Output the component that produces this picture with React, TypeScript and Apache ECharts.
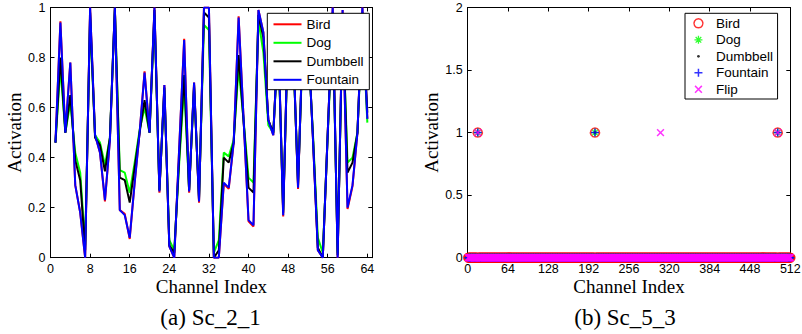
import React, { useEffect, useRef } from 'react';
import * as echarts from 'echarts';

// ---------- Data: (a) Sc_2_1, 64 channels ----------
const channels = Array.from({ length: 64 }, (_, i) => i + 1);

const bird = [
  0.46, 0.945, 0.5, 0.78, 0.29, 0.18, 0.0, 1.0, 0.49, 0.42,
  0.225, 0.47, 1.0, 0.19, 0.175, 0.075, 0.3, 0.5, 0.745, 0.5,
  1.0, 0.26, 0.69, 0.045, 0.0, 0.44, 0.875, 0.26, 0.7, 0.22,
  1.0, 1.0, 0.0, 0.0, 0.295, 0.275, 0.46, 0.965, 0.555, 0.145,
  0.125, 0.99, 0.9, 0.55, 0.49, 0.9, 0.165, 0.95, 0.86, 0.275,
  0.92, 0.9, 0.48, 0.03, 0.0, 0.5, 1.0, 0.0, 0.99, 0.195,
  0.285, 0.5, 1.0, 0.555,
];
const dog = [
  0.46, 0.76, 0.5, 0.62, 0.42, 0.34, 0.05, 0.95, 0.49, 0.46,
  0.37, 0.48, 0.99, 0.35, 0.34, 0.26, 0.38, 0.51, 0.6, 0.5,
  0.97, 0.27, 0.67, 0.07, 0.03, 0.38, 0.69, 0.27, 0.68, 0.24,
  0.93, 0.91, 0.02, 0.07, 0.42, 0.405, 0.47, 0.76, 0.55, 0.32,
  0.3, 0.95, 0.82, 0.53, 0.5, 0.86, 0.19, 0.91, 0.83, 0.3,
  0.88, 0.86, 0.5, 0.08, 0.02, 0.49, 0.95, 0.02, 0.95, 0.38,
  0.4, 0.5, 0.96, 0.54,
];
const dumbbell = [
  0.46, 0.8, 0.5, 0.65, 0.39, 0.31, 0.03, 0.98, 0.48, 0.45,
  0.345, 0.48, 1.0, 0.32, 0.31, 0.22, 0.36, 0.5, 0.63, 0.5,
  0.99, 0.27, 0.68, 0.05, 0.02, 0.4, 0.73, 0.27, 0.69, 0.23,
  0.98, 0.96, 0.0, 0.03, 0.4, 0.38, 0.46, 0.81, 0.545, 0.28,
  0.26, 0.97, 0.88, 0.55, 0.5, 0.88, 0.18, 0.93, 0.85, 0.29,
  0.9, 0.88, 0.49, 0.04, 0.0, 0.5, 0.98, 0.01, 0.97, 0.34,
  0.38, 0.5, 0.98, 0.58,
];
const fountain = [
  0.46, 0.94, 0.5, 0.78, 0.29, 0.18, 0.0, 1.0, 0.49, 0.42,
  0.23, 0.47, 1.0, 0.19, 0.17, 0.08, 0.3, 0.5, 0.74, 0.5,
  1.0, 0.265, 0.69, 0.045, 0.0, 0.44, 0.87, 0.265, 0.7, 0.225,
  1.0, 1.0, 0.0, 0.0, 0.3, 0.28, 0.46, 0.96, 0.555, 0.15,
  0.13, 0.99, 0.9, 0.55, 0.49, 0.9, 0.17, 0.95, 0.86, 0.28,
  0.92, 0.9, 0.48, 0.03, 0.0, 0.5, 1.0, 0.0, 0.99, 0.2,
  0.29, 0.5, 1.0, 0.555,
];

// ---------- Data: (b) Sc_5_3, 512 channels (all zero except the listed channels, which are 1) ----------
const channelCount512 = 512;
const birdActive = [16, 202, 492];
const dogActive = [16, 202, 492];
const dumbbellActive = [16, 202, 492];
const fountainActive = [16, 202, 492];
const flipActive = [16, 306, 492];

const seriesNamesA = ['Bird', 'Dog', 'Dumbbell', 'Fountain'];
const seriesNamesB = ['Bird', 'Dog', 'Dumbbell', 'Fountain', 'Flip'];
const captionA = '(a) Sc_2_1';
const captionB = '(b) Sc_5_3';

const SANS = '"Liberation Sans", Arial, Helvetica, sans-serif';
const SERIF = '"Liberation Serif", "Times New Roman", serif';

const RED = '#ff0000';
const GREEN = '#00ff00';
const BLACK = '#000000';
const BLUE = '#0000ff';
const MAGENTA = '#ff00ff';

const ICON_LINE = 'path://M0,0M28,14M0,7L28,7';
const ICON_CIRCLE = 'path://M0,0M10,10M5,0.5A4.5,4.5,0,1,1,4.99,0.5Z';
const ICON_ASTERISK = 'path://M0,0M10,10M5,1L5,9M1,5L9,5M2.2,2.2L7.8,7.8M2.2,7.8L7.8,2.2';
const ICON_DOT = 'path://M0,0M10,10M3.6,5L4,4L5,3.6L6,4L6.4,5L6,6L5,6.4L4,6Z';
const ICON_PLUS = 'path://M0,0M10,10M5,1L5,9M1,5L9,5';
const ICON_X = 'path://M0,0M10,10M1.6,1.6L8.4,8.4M1.6,8.4L8.4,1.6';

function build512(active: number[]) {
  const out: number[][] = [];
  for (let c = 1; c <= channelCount512; c++) {
    out.push([c, active.indexOf(c) >= 0 ? 1 : 0]);
  }
  return out;
}

function frameAxes(
  xMin: number, xMax: number, xInt: number,
  yMin: number, yMax: number, yInt: number,
  xLabelFmt?: (v: number) => string,
) {
  const line = { show: true, onZero: false, lineStyle: { color: '#000', width: 1 } };
  const tick = { show: true, inside: true, length: 4, lineStyle: { color: '#000', width: 1 } };
  const label = { color: '#000', fontFamily: SANS, fontSize: 12.5 };
  const xAxis = [
    {
      type: 'value', min: xMin, max: xMax, interval: xInt, position: 'bottom',
      axisLine: line, axisTick: tick, splitLine: { show: false },
      axisLabel: { ...label, margin: 5, formatter: xLabelFmt },
      name: 'Channel Index', nameLocation: 'middle', nameGap: 19.5, nameMoveOverlap: false,
      nameTextStyle: { fontFamily: SERIF, fontSize: 19, color: '#000' },
    },
    {
      type: 'value', min: xMin, max: xMax, interval: xInt, position: 'top',
      axisLine: line, axisTick: tick, splitLine: { show: false }, axisLabel: { show: false },
    },
  ];
  const yAxis = [
    {
      type: 'value', min: yMin, max: yMax, interval: yInt, position: 'left',
      axisLine: line, axisTick: tick, splitLine: { show: false },
      axisLabel: { ...label, margin: 5 },
      name: 'Activation', nameLocation: 'middle', nameGap: 27, nameRotate: 90, nameMoveOverlap: false,
      nameTextStyle: { fontFamily: SERIF, fontSize: 19, color: '#000' },
    },
    {
      type: 'value', min: yMin, max: yMax, interval: yInt, position: 'right',
      axisLine: line, axisTick: tick, splitLine: { show: false }, axisLabel: { show: false },
    },
  ];
  return { xAxis, yAxis };
}

function caption(text: string, x: number) {
  return {
    type: 'text', x, y: 317.5, z: 5,
    style: {
      text, fill: '#000', fontFamily: SERIF, fontSize: 23,
      align: 'center', verticalAlign: 'middle', textAlign: 'center', textVerticalAlign: 'middle',
    },
  };
}

function optionA() {
  const axes = frameAxes(0, 65, 8, 0, 1, 0.2, (v: number) => (v % 8 === 0 ? String(v) : ''));
  const values = [bird, dog, dumbbell, fountain];
  const colors = [RED, GREEN, BLACK, BLUE];
  return {
    animation: false,
    grid: { left: 50.5, right: 28.7, top: 7.5, bottom: 76.3, containLabel: false, outerBoundsMode: 'none' },
    ...axes,
    legend: {
      orient: 'vertical', left: 267.3, top: 13.3, padding: [3, 5.8, 1.9, 5.2],
      backgroundColor: '#ffffff', borderColor: '#000000', borderWidth: 1, borderRadius: 0,
      itemWidth: 28, itemHeight: 14, itemGap: 2.5, selectedMode: false,
      textStyle: { fontFamily: SANS, fontSize: 13.5, color: '#000', lineHeight: 14 },
      data: seriesNamesA.map((name, i) => ({
        name, icon: ICON_LINE,
        itemStyle: { color: 'transparent', borderColor: colors[i], borderWidth: 2 },
      })),
    },
    graphic: [caption(captionA, 210.5)],
    series: seriesNamesA.map((name, i) => ({
      type: 'line', name, xAxisIndex: 0, yAxisIndex: 0, silent: true,
      data: channels.map((c, j) => [c, values[i][j]]),
      symbol: 'none', color: colors[i],
      lineStyle: { color: colors[i], width: 2 },
    })),
  };
}

function optionB() {
  const axes = frameAxes(0, 512, 64, 0, 2, 0.5);
  const actives = [birdActive, dogActive, dumbbellActive, fountainActive, flipActive];
  const styles = [
    { symbol: ICON_CIRCLE, itemStyle: { color: 'transparent', borderColor: RED, borderWidth: 1.5 } },
    { symbol: ICON_ASTERISK, itemStyle: { color: 'transparent', borderColor: GREEN, borderWidth: 1.3 } },
    { symbol: ICON_DOT, itemStyle: { color: BLACK, borderColor: BLACK, borderWidth: 0 } },
    { symbol: ICON_PLUS, itemStyle: { color: 'transparent', borderColor: BLUE, borderWidth: 1.5 } },
    { symbol: ICON_X, itemStyle: { color: 'transparent', borderColor: MAGENTA, borderWidth: 1.5 } },
  ];
  return {
    animation: false,
    grid: { left: 66.7, right: 11.7, top: 7.5, bottom: 76.3, containLabel: false, outerBoundsMode: 'none' },
    ...axes,
    legend: {
      orient: 'vertical', left: 284, top: 13.3, padding: [3, 4.6, 2.7, 7.7],
      backgroundColor: '#ffffff', borderColor: '#000000', borderWidth: 1, borderRadius: 0,
      itemWidth: 25, itemHeight: 10, itemGap: 2.5, selectedMode: false,
      textStyle: { fontFamily: SANS, fontSize: 13.5, color: '#000', lineHeight: 14 },
      data: seriesNamesB.map((name, i) => ({ name, icon: styles[i].symbol, itemStyle: styles[i].itemStyle })),
    },
    graphic: [caption(captionB, 224)],
    series: seriesNamesB.map((name, i) => ({
      type: 'scatter', name, xAxisIndex: 0, yAxisIndex: 0, silent: true,
      data: build512(actives[i]),
      symbol: styles[i].symbol, symbolSize: 10,
      itemStyle: styles[i].itemStyle,
      clip: false,
    })),
  };
}

function Chart({ option, left }: { option: any; left: number }) {
  const ref = useRef<HTMLDivElement>(null);
  useEffect(() => {
    if (!ref.current) return;
    const chart = echarts.init(ref.current, null, { renderer: 'svg' });
    chart.setOption(option);
    return () => chart.dispose();
  }, [option]);
  return (
    <div
      ref={ref}
      style={{ position: 'absolute', left, top: 0, width: 401, height: 334 }}
    />
  );
}

const optA = optionA();
const optB = optionB();

export default function App() {
  return (
    <div style={{ position: 'absolute', left: 0, top: 0, width: 802, height: 334, background: '#fff', overflow: 'hidden' }}>
      <Chart option={optA} left={0} />
      <Chart option={optB} left={401} />
    </div>
  );
}
